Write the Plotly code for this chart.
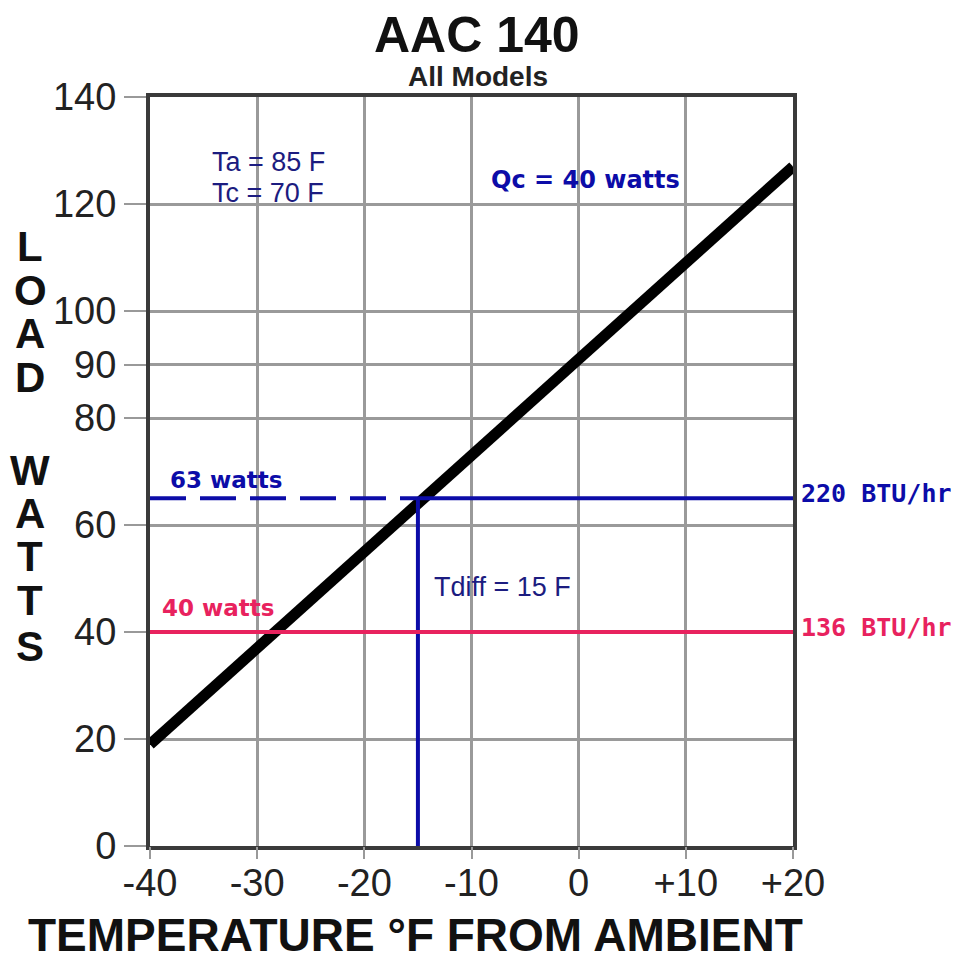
import plotly.graph_objects as go

# ---- data ----
temp_line = [-40, 20]          # deg F from ambient
load_line = [19, 127]          # watts
x_ticks = [-40, -30, -20, -10, 0, 10, 20]
x_tick_labels = ["-40", "-30", "-20", "-10", "0", "+10", "+20"]
y_ticks = [0, 20, 40, 60, 80, 90, 100, 120, 140]
y_tick_labels = ["0", "20", "40", "60", "80", "90", "100", "120", "140"]
op_load = 65                    # operating point load (63 watts label)
op_tdiff = -15                  # operating point temperature
qc_load = 40                    # Qc line
BLUE = "#0c0ca8"
PINK = "#e8225e"
DBLUE = "#1c1c80"

# page has an 8px body margin; compensate so plot sits at page px 150..793, 97..846
OFF = 8
W, H = 959 - OFF, 960 - OFF
PL, PR, PT, PB = 150, 793, 97, 846          # plot area in page pixels
L, T = PL - OFF, PT - OFF
R, B = W - (PR - OFF), H - (PB - OFF)
PW, PH = PR - PL, PB - PT

def px(x):
    return (x - PL) / PW

def py(y):
    return (PB - y) / PH

fig = go.Figure()

fig.add_trace(go.Scatter(x=temp_line, y=load_line, mode="lines",
                         line=dict(color="black", width=11), showlegend=False, hoverinfo="skip"))
fig.add_trace(go.Scatter(x=[temp_line[0], op_tdiff], y=[op_load, op_load], mode="lines",
                         line=dict(color=BLUE, width=4, dash="36px,14px"), showlegend=False, hoverinfo="skip"))
fig.add_trace(go.Scatter(x=[op_tdiff, temp_line[1]], y=[op_load, op_load], mode="lines",
                         line=dict(color=BLUE, width=4), showlegend=False, hoverinfo="skip"))
fig.add_trace(go.Scatter(x=[op_tdiff, op_tdiff], y=[0, op_load], mode="lines",
                         line=dict(color=BLUE, width=4), showlegend=False, hoverinfo="skip"))
fig.add_trace(go.Scatter(x=[temp_line[0], temp_line[1]], y=[qc_load, qc_load], mode="lines",
                         line=dict(color=PINK, width=4), showlegend=False, hoverinfo="skip"))
# invisible trace on the tick-mark axis so it is drawn
fig.add_trace(go.Scatter(x=temp_line, y=load_line, xaxis="x2", mode="lines",
                         line=dict(color="rgba(0,0,0,0)", width=0), showlegend=False, hoverinfo="skip"))

ann = []
def add(text, x, y, size, color, family="Liberation Sans", xanchor="center", bold=False):
    ann.append(dict(text=f"<b>{text}</b>" if bold else text, x=px(x), y=py(y), xref="paper", yref="paper",
                    showarrow=False, xanchor=xanchor, yanchor="middle",
                    font=dict(size=size, color=color, family=family)))

add("AAC 140", 477, 35, 50, "#111", bold=True)
add("All Models", 478, 76, 28, "#222", bold=True)
add("TEMPERATURE °F FROM AMBIENT", 415, 935, 46, "#111", bold=True)

letters = [("L", 247), ("O", 290), ("A", 333), ("D", 378),
           ("W", 470), ("A", 513), ("T", 556), ("T", 600), ("S", 647)]
for ch, yy in letters:
    add(ch, 30, yy, 42, "#111", bold=True)

add("Ta = 85 F", 210, 162, 27, DBLUE, xanchor="left")
add("Tc = 70 F", 210, 193, 27, DBLUE, xanchor="left")
add("Qc = 40 watts", 489, 180, 24, BLUE, family="DejaVu Sans", xanchor="left", bold=True)
add("63 watts", 168, 480, 23, BLUE, family="DejaVu Sans", xanchor="left", bold=True)
add("40 watts", 160, 608, 23, PINK, family="DejaVu Sans", xanchor="left", bold=True)
add("Tdiff = 15 F", 432, 587, 27, DBLUE, xanchor="left")
add("220 BTU/hr", 799, 493, 25, BLUE, family="DejaVu Sans Mono", xanchor="left", bold=True)
add("136 BTU/hr", 799, 627, 25, PINK, family="DejaVu Sans Mono", xanchor="left", bold=True)

fig.update_layout(
    width=W, height=H,
    margin=dict(l=L, r=R, t=T, b=B, autoexpand=False),
    paper_bgcolor="white", plot_bgcolor="white",
    annotations=ann,
    xaxis=dict(range=[-40, 20], tickvals=x_ticks, ticktext=x_tick_labels,
               showgrid=True, gridcolor="#9a9a9a", gridwidth=2.5,
               showline=True, linecolor="#3a3a3a", linewidth=4, mirror=True,
               ticks="",
               tickfont=dict(size=38, color="#222", family="Liberation Sans"),
               zeroline=False, fixedrange=True, automargin=False),
    xaxis2=dict(range=[-40, 20], tickvals=x_ticks, overlaying="x", anchor="y", side="bottom",
                showgrid=False, showline=False, showticklabels=False,
                ticks="outside", ticklen=12, tickcolor="#999", tickwidth=2,
                zeroline=False, fixedrange=True, automargin=False),
    yaxis=dict(range=[0, 140], tickvals=y_ticks, ticktext=y_tick_labels,
               showgrid=True, gridcolor="#9a9a9a", gridwidth=2.5,
               showline=True, linecolor="#3a3a3a", linewidth=4, mirror=True,
               ticks="outside", ticklen=22, tickcolor="#999", tickwidth=2,
               tickfont=dict(size=38, color="#222", family="Liberation Sans"),
               zeroline=False, fixedrange=True, automargin=False),
)

fig.write_html("out.html")
